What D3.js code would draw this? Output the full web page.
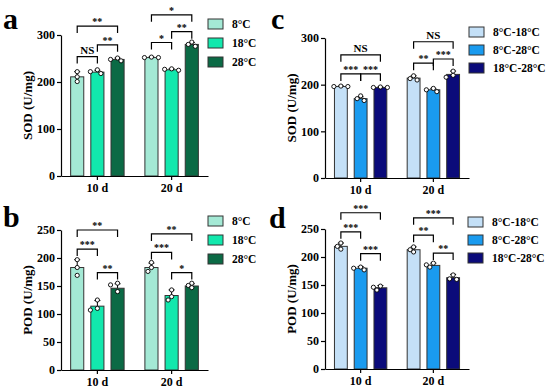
<!DOCTYPE html>
<html>
<head>
<meta charset="utf-8">
<script src="https://cdn.jsdelivr.net/npm/d3@7"></script>
<style>
body { margin: 0; background: #fff; }
svg text { font-family: "Liberation Serif", serif; font-weight: bold; fill: #000; }
</style>
</head>
<body>
<svg id="chart" width="550" height="390"></svg>
<script>
var groups = ["10 d", "20 d"];
var tempSeries = ["8°C", "18°C", "28°C"];
var diffSeries = ["8°C-18°C", "8°C-28°C", "18°C-28°C"];
var tempColors = ["#a4e9d5", "#12e8ad", "#0b6a45"];
var diffColors = ["#c4e0f7", "#1a9bef", "#0b0b7a"];
var pairs = [[0, 1], [1, 2], [0, 2]];

// a: SOD, temperature
var sodTempMean = [[211, 221, 248], [252, 226, 280]];
var sodTempSd = [[11, 4, 3], [1, 2, 4]];
var sodTempPts = [[[222, 211, 201], [226, 222, 218], [251, 248, 245]],
                  [[253, 252, 252], [228, 227, 225], [285, 280, 276]]];
var sodTempSig = [[["NS", 254], ["**", 279], ["**", 319]],
                  [["*", 284], ["**", 307], ["*", 343]]];

// b: POD, temperature
var podTempMean = [[183, 114, 146], [183, 133, 150]];
var podTempSd = [[14, 10, 8], [8, 10, 4]];
var podTempPts = [[[197, 183, 169], [125, 110, 107], [155, 152, 140]],
                  [[192, 183, 176], [143, 131, 125], [155, 151, 147]]];
var podTempSig = [[["***", 216], ["**", 174], ["**", 250]],
                  [["***", 210], ["*", 174], ["**", 243]]];

// c: SOD, transfer
var sodDiffMean = [[196, 170, 194], [214, 189, 222]];
var sodDiffSd = [[1, 4, 1], [5, 3, 7]];
var sodDiffPts = [[[197, 196, 196], [176, 170, 166], [195, 194, 194]],
                  [[219, 213, 210], [192, 189, 185], [229, 220, 216]]];
var sodDiffSig = [[["***", 223], ["***", 223], ["NS", 264]],
                  [["**", 246], ["***", 255], ["NS", 292]]];

// d: POD, transfer
var podDiffMean = [[219, 180, 145], [213, 185, 163]];
var podDiffSd = [[6, 3, 4], [5, 4, 6]];
var podDiffPts = [[[225, 219, 214], [182, 180, 177], [148, 146, 141]],
                  [[218, 213, 209], [189, 186, 182], [168, 161, 160]]];
var podDiffSig = [[["***", 245], ["***", 206], ["***", 279]],
                  [["**", 239], ["**", 207], ["***", 270]]];

var sodTicks = [0, 100, 200, 300];
var podTicks = [0, 50, 100, 150, 200, 250];

var panels = [
  {letter: "a", title: "SOD (U/mg)", series: tempSeries, colors: tempColors, mean: sodTempMean, sd: sodTempSd, pts: sodTempPts, sig: sodTempSig,
   yMax: 300, ticks: sodTicks, left: 61, right: 208, top: 35, bottom: 176, lx: 208, ly: 24, lstep: 19, letterX: 3, letterY: 29},
  {letter: "b", title: "POD (U/mg)", series: tempSeries, colors: tempColors, mean: podTempMean, sd: podTempSd, pts: podTempPts, sig: podTempSig,
   yMax: 250, ticks: podTicks, left: 61, right: 208, top: 230, bottom: 370, lx: 208, ly: 221, lstep: 19, letterX: 3, letterY: 227},
  {letter: "c", title: "SOD (U/mg)", series: diffSeries, colors: diffColors, mean: sodDiffMean, sd: sodDiffSd, pts: sodDiffPts, sig: sodDiffSig,
   yMax: 300, ticks: sodTicks, left: 325, right: 469, top: 38, bottom: 178, lx: 469, ly: 32, lstep: 18, letterX: 271, letterY: 29},
  {letter: "d", title: "POD (U/mg)", series: diffSeries, colors: diffColors, mean: podDiffMean, sd: podDiffSd, pts: podDiffPts, sig: podDiffSig,
   yMax: 250, ticks: podTicks, left: 325, right: 469, top: 229, bottom: 369, lx: 468, ly: 222, lstep: 18, letterX: 269, letterY: 228}
];

var svg = d3.select("#chart");

function drawPanel(p) {
    var g = svg.append("g");
    var y = d3.scaleLinear().domain([0, p.yMax]).range([p.bottom, p.top]);
    var x0 = d3.scaleBand().domain(groups).range([p.left, p.right])
        .paddingInner(0.28).paddingOuter(0.13);
    var x1 = d3.scaleBand().domain(p.series).range([0, x0.bandwidth()])
        .paddingInner(0.35);

    groups.forEach(function(grp, gi) {
        var gx = x0(grp);
        var cg = g.append("g").attr("transform", "translate(" + gx + ",0)");
        p.series.forEach(function(s, si) {
            var bx = x1(s), bw = x1.bandwidth(), cx = bx + bw / 2;
            var m = p.mean[gi][si], sd = p.sd[gi][si];
            // error bar (upper only)
            cg.append("line").attr("x1", cx).attr("x2", cx)
              .attr("y1", y(m)).attr("y2", y(m + sd))
              .attr("stroke", "#000").attr("stroke-width", 1);
            cg.append("line").attr("x1", cx - 3).attr("x2", cx + 3)
              .attr("y1", y(m + sd)).attr("y2", y(m + sd))
              .attr("stroke", "#000").attr("stroke-width", 1);
            cg.append("rect")
              .attr("x", bx).attr("y", y(m))
              .attr("width", bw).attr("height", y(0) - y(m))
              .attr("fill", p.colors[si])
              .attr("stroke", "#333").attr("stroke-width", 1);
            // dots, nudged sideways when they would overlap
            var placed = [];
            p.pts[gi][si].forEach(function(v) {
                var py = y(v), off = 0, tries = [0, -3.5, 3.5, -7, 7];
                for (var k = 0; k < tries.length; k++) {
                    var ok = placed.every(function(q) {
                        return Math.hypot(q[0] - tries[k], q[1] - py) >= 4;
                    });
                    if (ok) { off = tries[k]; break; }
                }
                placed.push([off, py]);
                cg.append("circle").attr("cx", cx + off).attr("cy", py).attr("r", 2.1)
                  .attr("fill", "#fff").attr("stroke", "#000").attr("stroke-width", 0.9);
            });
        });
        // significance brackets
        pairs.forEach(function(pr, pi) {
            var lab = p.sig[gi][pi][0], yv = y(p.sig[gi][pi][1]);
            var xa = x1(p.series[pr[0]]) + x1.bandwidth() / 2;
            var xb = x1(p.series[pr[1]]) + x1.bandwidth() / 2;
            cg.append("path")
              .attr("d", "M" + xa + "," + (yv + 7) + "V" + yv + "H" + xb + "V" + (yv + 7))
              .attr("fill", "none").attr("stroke", "#000").attr("stroke-width", 1.2);
            var isNs = lab == "NS";
            cg.append("text").attr("x", (xa + xb) / 2)
              .attr("y", yv - (isNs ? 3 : 1))
              .attr("text-anchor", "middle")
              .attr("font-size", isNs ? 11 : 10)
              .text(lab);
        });
    });

    var ya = g.append("g").attr("transform", "translate(" + p.left + ",0)")
        .call(d3.axisLeft(y).tickValues(p.ticks).tickSize(4).tickSizeOuter(0).tickPadding(2));
    var xa = g.append("g").attr("transform", "translate(0," + p.bottom + ")")
        .call(d3.axisBottom(x0).tickSize(4).tickSizeOuter(0).tickPadding(3));
    [ya, xa].forEach(function(a) {
        a.attr("font-family", null);
        a.select(".domain").attr("stroke", "#000").attr("stroke-width", 1.2);
        a.selectAll(".tick line").attr("stroke", "#000").attr("stroke-width", 1.2);
        a.selectAll("text").attr("font-size", 12).attr("fill", "#000");
    });

    g.append("text")
      .attr("transform", "translate(" + (p.left - 34) + "," + ((p.top + p.bottom) / 2) + ") rotate(-90)")
      .attr("text-anchor", "middle").attr("dy", "0.35em")
      .attr("font-size", 13).text(p.title);

    g.append("text").attr("x", p.letterX).attr("y", p.letterY)
      .attr("font-size", 30).text(p.letter);

    var leg = g.append("g").attr("transform", "translate(" + p.lx + "," + p.ly + ")");
    p.series.forEach(function(s, i) {
        leg.append("rect").attr("x", 0).attr("y", i * p.lstep - 5)
          .attr("width", 15).attr("height", 10)
          .attr("fill", p.colors[i]).attr("stroke", "#333").attr("stroke-width", 1);
        leg.append("text").attr("x", 24).attr("y", i * p.lstep).attr("dy", "0.35em")
          .attr("font-size", 11.5).text(s);
    });
}

panels.forEach(drawPanel);
</script>
</body>
</html>
